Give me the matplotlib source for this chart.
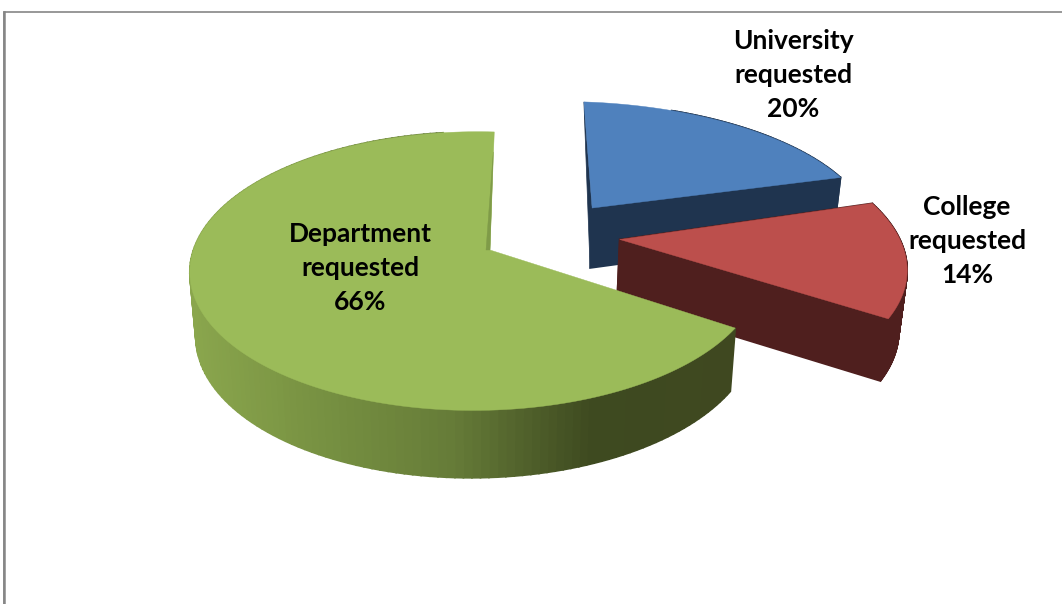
import numpy as np
import matplotlib
matplotlib.use("Agg")
import matplotlib.pyplot as plt

# data
categories = ["University", "College", "Department"]
percents = [20, 14, 66]
top_colors = ["#4f81bd", "#bc4f4c", "#9bbb59"]
side_colors = ["#1f344f", "#4f1f1e", None]

# how each slice sits on the disc: explode in u, v and a radius stretch
explode_u = [0.39, 0.48, 0.0]
explode_v = [0.33, 0.08, 0.0]
stretch_u = [1.12, 1.12, 1.006]
stretch_v = [1.0, 1.06, 1.0]

# label placement in pixels
label_x = [793, 967, 360]
label_y = [75, 241, 268]

# gradient on the rim of the big slice
grad_x = [190, 300, 450, 590, 740]
grad_r = [0x8a, 0x7a, 0x66, 0x3e, 0x3f]
grad_g = [0xa6, 0x94, 0x7c, 0x4a, 0x48]
grad_b = [0x4d, 0x43, 0x38, 0x20, 0x20]

# camera
CX, CY = 490, 250
RX, RY = 280, 136
K_V, K_U = 0.151, 0.05
DEPTH = 62
SHRINK = 0.98
ROTATION = 1.0


def project(u, v, z=0.0):
    s = 1 / (1 + K_V * v + K_U * u)
    x = CX + RX * u * s
    y = CY - RY * v * s
    if z:
        x = CX + (x - CX) * SHRINK
        y = y + z * np.sqrt(s)
    return x, y


fig = plt.figure(figsize=(10.62, 6.04), dpi=100)
ax = fig.add_axes([0, 0, 1, 1])
ax.set_xlim(0, 1062)
ax.set_ylim(604, 0)
ax.axis("off")

# chart frame
ax.plot([4, 4, 1062], [604, 12, 12], color="#868686", lw=1.2, solid_joinstyle="miter")
ax.plot([4, 4], [604, 12], color="#868686", lw=1.8)

edges = np.cumsum([0] + percents) * 3.6 + ROTATION

for i, name in enumerate(categories):
    theta = np.radians(np.linspace(edges[i], edges[i + 1], 160))
    u0, v0 = explode_u[i], explode_v[i]
    u = u0 + stretch_u[i] * np.sin(theta)
    v = v0 + stretch_v[i] * np.cos(theta)

    # outline of the slice: apex then rim
    pu = np.r_[u0, u, u0]
    pv = np.r_[v0, v, v0]
    xt, yt = project(pu, pv)
    xb, yb = project(pu, pv, DEPTH)

    # side walls, one quad per outline step
    for j in range(len(pu) - 1):
        qx = [xt[j], xt[j + 1], xb[j + 1], xb[j]]
        qy = [yt[j], yt[j + 1], yb[j + 1], yb[j]]
        if side_colors[i] is not None:
            # the rim behind the blue slice stays hidden
            if i == 0 and j < len(pu) - 2 and pu[j] < u0 + 0.4:
                continue
            c = side_colors[i]
        else:
            if j == 0 or j == len(pu) - 2:
                continue
            if pu[j] > -0.2 and pv[j] > 0:
                continue
            xm = 0.5 * (xt[j] + xt[j + 1])
            c = (np.interp(xm, grad_x, grad_r) / 255,
                 np.interp(xm, grad_x, grad_g) / 255,
                 np.interp(xm, grad_x, grad_b) / 255)
        ax.fill(qx, qy, color=c, lw=1.2)

    # far cut wall of the blue slice seen edge on
    if i == 0:
        ax.fill([xt[1], xt[0], xb[0]], [yt[1], yt[0], yb[0]], color=side_colors[0], lw=0.5)

    ax.fill(xt, yt, color=top_colors[i], lw=0.3)

    # thin sliver of the far cut wall on the big slice
    if i == 2:
        ax.fill([xt[0] - 4, xt[-2] - 1, xt[0]], [yt[0], yt[-2] + 20, yt[0]],
                color="#7f9b48", lw=0.3)

    ax.text(label_x[i], label_y[i], f"{name}\nrequested\n{percents[i]}%",
            ha="center", va="center", family="Lato", weight="bold",
            fontsize=19, linespacing=1.5, color="black")

fig.savefig("out.png", dpi=100)
